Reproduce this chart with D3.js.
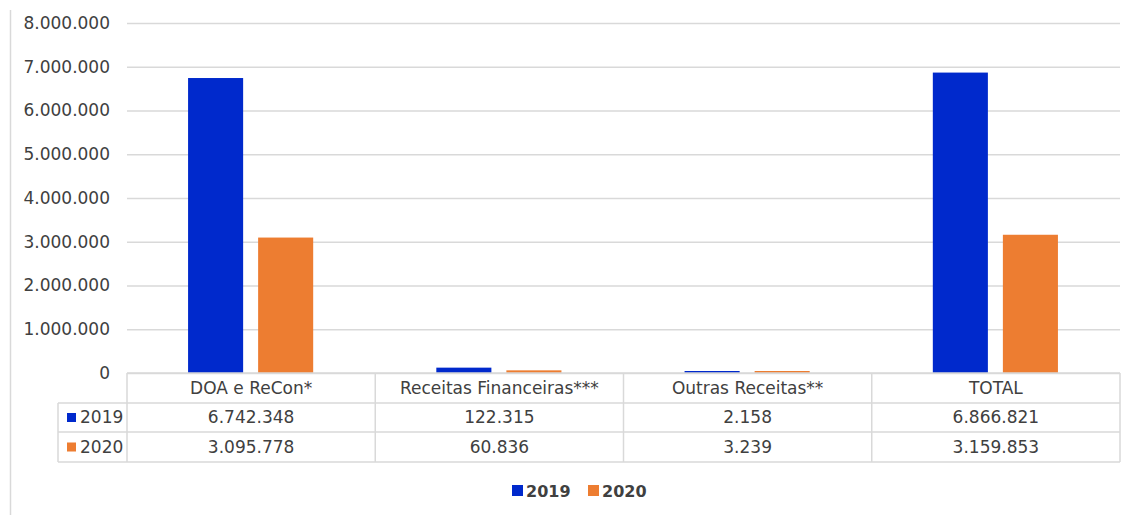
<!DOCTYPE html>
<html>
<head>
<meta charset="utf-8">
<script src="https://cdn.jsdelivr.net/npm/d3@7"></script>
<style>
  body { margin: 0; background: #fff; }
  text { font-family: "DejaVu Sans", sans-serif; fill: #404040; }
</style>
</head>
<body>
<svg class="bar_chart" width="1134" height="515"></svg>
<script>
const categories = ['DOA e ReCon*', 'Receitas Financeiras***', 'Outras Receitas**', 'TOTAL'];
const seriesNames = ['2019', '2020'];
const values2019 = [6742348, 122315, 2158, 6866821];
const values2020 = [3095778, 60836, 3239, 3159853];
const yTicks = [0, 1000000, 2000000, 3000000, 4000000, 5000000, 6000000, 7000000, 8000000];

const colors = { '2019': '#0029CC', '2020': '#ED7D31' };
const gridColor = '#d9d9d9';

const chart = d3.select('.bar_chart');

const ptBR = d3.formatLocale({ decimal: ',', thousands: '.', grouping: [3], currency: ['', ''] });
const fmt = ptBR.format(',d');

const plot = { left: 127, right: 1120, top: 23, bottom: 373 };
const rowH = [30, 29, 30];
const legendColX = 58;

const seriesValues = { '2019': values2019, '2020': values2020 };

const x0 = d3.scaleBand()
    .domain(categories)
    .range([plot.left, plot.right]);

const x1 = d3.scaleBand()
    .domain(seriesNames)
    .range([x0.bandwidth() * 0.246, x0.bandwidth() * 0.75])
    .paddingInner(0.214);

const y = d3.scaleLinear()
    .domain([0, 8000000])
    .range([plot.bottom, plot.top]);

// left border
chart.append('line')
    .attr('x1', 10.5).attr('x2', 10.5)
    .attr('y1', 10).attr('y2', 515)
    .attr('stroke', gridColor)
    .attr('stroke-width', 1.5);

// y axis with gridlines
const yAxis = d3.axisLeft(y)
    .tickValues(yTicks)
    .tickFormat(fmt)
    .tickSize(-(plot.right - plot.left))
    .tickPadding(17);

const yAxisG = chart.append('g')
    .attr('transform', `translate(${plot.left}, 0)`)
    .call(yAxis);

yAxisG.select('.domain').remove();
yAxisG.selectAll('.tick line')
    .attr('stroke', gridColor)
    .attr('stroke-width', 1.5);
yAxisG.selectAll('.tick text')
    .style('font-family', '"DejaVu Sans", sans-serif')
    .style('font-size', '17px')
    .attr('fill', '#404040');

// bars
const data = [];
categories.forEach((c, i) => {
    seriesNames.forEach(s => data.push({ cat: c, series: s, value: seriesValues[s][i] }));
});

chart.append('g')
    .selectAll('rect')
    .data(data)
    .join('rect')
    .attr('x', d => x0(d.cat) + x1(d.series))
    .attr('width', x1.bandwidth())
    .attr('y', d => Math.min(y(d.value), plot.bottom - 2))
    .attr('height', d => Math.max(plot.bottom - y(d.value), 2))
    .attr('fill', d => colors[d.series]);

// data table
const table = chart.append('g');
const rowTops = [plot.bottom, plot.bottom + rowH[0], plot.bottom + rowH[0] + rowH[1]];
const tableBottom = rowTops[2] + rowH[2];

const line = (xa, ya, xb, yb) => table.append('line')
    .attr('x1', xa).attr('y1', ya).attr('x2', xb).attr('y2', yb)
    .attr('stroke', gridColor)
    .attr('stroke-width', 1.5);

line(plot.left, rowTops[0], plot.right, rowTops[0]);
line(legendColX, rowTops[1], plot.right, rowTops[1]);
line(legendColX, rowTops[2], plot.right, rowTops[2]);
line(legendColX, tableBottom, plot.right, tableBottom);
line(legendColX, rowTops[1], legendColX, tableBottom);
categories.forEach(c => line(x0(c), rowTops[0], x0(c), tableBottom));
line(plot.right, rowTops[0], plot.right, tableBottom);

table.selectAll('.cat')
    .data(categories)
    .join('text')
    .attr('x', d => x0(d) + x0.bandwidth() / 2)
    .attr('y', rowTops[0] + rowH[0] / 2)
    .attr('dy', '0.35em')
    .attr('text-anchor', 'middle')
    .style('font-size', '17px')
    .text(d => d);

seriesNames.forEach((s, si) => {
    const cy = rowTops[si + 1] + rowH[si + 1] / 2;
    table.append('rect')
        .attr('x', 67).attr('y', cy - 4.5)
        .attr('width', 9).attr('height', 9)
        .attr('fill', colors[s]);
    table.append('text')
        .attr('x', 80).attr('y', cy)
        .attr('dy', '0.35em')
        .style('font-size', '17px')
        .text(s);
    table.append('g')
        .selectAll('text')
        .data(seriesValues[s])
        .join('text')
        .attr('x', (d, i) => x0(categories[i]) + x0.bandwidth() / 2)
        .attr('y', cy)
        .attr('dy', '0.35em')
        .attr('text-anchor', 'middle')
        .style('font-size', '17px')
        .text(d => fmt(d));
});

// legend
const legend = chart.append('g')
    .attr('transform', 'translate(512, 491)');

const legendX = [0, 76];
seriesNames.forEach((s, i) => {
    legend.append('rect')
        .attr('x', legendX[i]).attr('y', -6)
        .attr('width', 11).attr('height', 11)
        .attr('fill', colors[s]);
    legend.append('text')
        .attr('x', legendX[i] + 14).attr('y', 0)
        .attr('dy', '0.35em')
        .style('font-size', '16px')
        .style('font-weight', 'bold')
        .text(s);
});
</script>
</body>
</html>
